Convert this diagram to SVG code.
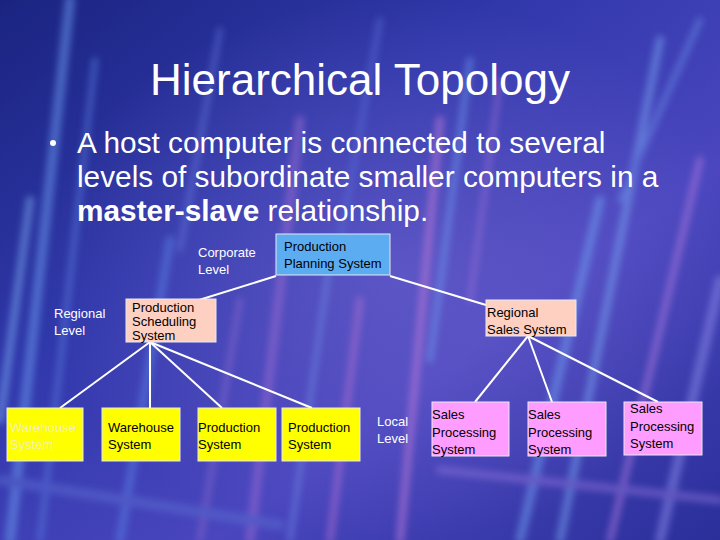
<svg xmlns="http://www.w3.org/2000/svg" width="720" height="540" viewBox="0 0 720 540">
<defs>
<linearGradient id="bg" x1="0" y1="0" x2="1" y2="1">
<stop offset="0" stop-color="#1a2480"/>
<stop offset="0.35" stop-color="#3038aa"/>
<stop offset="0.65" stop-color="#4a46be"/>
<stop offset="1" stop-color="#2a2f9a"/>
</linearGradient>
<radialGradient id="glow" cx="0.55" cy="0.5" r="0.5">
<stop offset="0" stop-color="#8070d8" stop-opacity="0.45"/>
<stop offset="1" stop-color="#8070d8" stop-opacity="0"/>
</radialGradient>
<filter id="blur" x="-20%" y="-20%" width="140%" height="140%"><feGaussianBlur stdDeviation="3.5"/></filter>
<style>
.t{font-family:"Liberation Sans",Arial,sans-serif;fill:#fff}
.s{font-family:"Liberation Sans",Arial,sans-serif;font-size:13px;fill:#000}
.lbl{font-family:"Liberation Sans",Arial,sans-serif;font-size:13px;fill:#fff}
.box{stroke:#e8e8f0;stroke-width:1}
.conn line{stroke:#fff;stroke-width:2}
.st{fill:none;stroke-linecap:round}
</style>
</defs>
<rect width="720" height="540" fill="url(#bg)"/>
<rect width="720" height="540" fill="url(#glow)"/>
<g filter="url(#blur)" opacity="0.55" class="st">
<path d="M10 540 L70 0" stroke="#6a98ee" stroke-width="10"/>
<path d="M40 540 L95 60" stroke="#5a7ee0" stroke-width="6"/>
<path d="M0 420 L30 200" stroke="#7aa8f0" stroke-width="8"/>
<path d="M120 540 L170 240" stroke="#5a80e4" stroke-width="8"/>
<path d="M200 540 L240 300" stroke="#8a68cc" stroke-width="6"/>
<path d="M250 540 L300 120" stroke="#9a6ad0" stroke-width="9"/>
<path d="M290 540 L330 260" stroke="#6f90e8" stroke-width="5"/>
<path d="M330 540 L360 300" stroke="#b070d0" stroke-width="7"/>
<path d="M400 540 L440 120" stroke="#c07ad8" stroke-width="8"/>
<path d="M430 360 L470 60" stroke="#6f9ef0" stroke-width="6"/>
<path d="M470 300 L500 80" stroke="#a070d8" stroke-width="5"/>
<path d="M520 540 L600 200" stroke="#6f9ef0" stroke-width="9"/>
<path d="M560 540 L660 40" stroke="#78a4f0" stroke-width="8"/>
<path d="M610 540 L700 160" stroke="#b07ae0" stroke-width="7"/>
<path d="M660 540 L720 280" stroke="#8a88e8" stroke-width="10"/>
<path d="M620 200 L700 20" stroke="#6a8ee8" stroke-width="6"/>
<path d="M180 250 L220 30" stroke="#6a7ee0" stroke-width="5"/>
<path d="M340 240 L380 20" stroke="#5a6ad8" stroke-width="6"/>
<path d="M440 470 L720 500" stroke="#8a70d8" stroke-width="8"/>
<path d="M0 480 L280 525" stroke="#5a6ad0" stroke-width="10"/>
</g>
<text class="t" x="360" y="95" font-size="44" text-anchor="middle">Hierarchical Topology</text>
<circle cx="53" cy="143" r="3" fill="#fff"/>
<text class="t" font-size="29.8"><tspan x="77" y="153">A host computer is connected to several</tspan><tspan x="77" y="187">levels of subordinate smaller computers in a</tspan><tspan x="77" y="221"><tspan font-weight="bold">master-slave</tspan> relationship.</tspan></text>
<g class="conn" id="connectors">
<line x1="276" y1="276" x2="199" y2="300"/>
<line x1="390" y1="276" x2="486" y2="305"/>
<line x1="150" y1="342" x2="60" y2="408"/>
<line x1="150" y1="342" x2="150" y2="408"/>
<line x1="150" y1="342" x2="222" y2="408"/>
<line x1="150" y1="342" x2="312" y2="408"/>
<line x1="528" y1="336" x2="475" y2="402"/>
<line x1="528" y1="336" x2="552" y2="402"/>
<line x1="528" y1="336" x2="658" y2="402"/>
</g>
<g id="lbl-corporate"><text class="lbl"><tspan x="198" y="257">Corporate</tspan><tspan x="198" y="274">Level</tspan></text></g>
<g id="lbl-regional"><text class="lbl"><tspan x="54" y="318">Regional</tspan><tspan x="54" y="335">Level</tspan></text></g>
<g id="lbl-local"><text class="lbl"><tspan x="377" y="426">Local</tspan><tspan x="377" y="443">Level</tspan></text></g>
<g id="planning"><rect class="box" x="276" y="234" width="114" height="41" fill="#5cacf2"/><text class="s"><tspan x="284" y="251">Production</tspan><tspan x="284" y="268">Planning System</tspan></text></g>
<g id="scheduling"><rect class="box" x="126" y="299" width="90" height="43" fill="#fdd0c2"/><text class="s" font-size="11"><tspan x="132" y="312">Production</tspan><tspan x="132" y="326">Scheduling</tspan><tspan x="132" y="340">System</tspan></text></g>
<g id="regional-sales"><rect class="box" x="486" y="300" width="90" height="36" fill="#fdd0c2"/><text class="s"><tspan x="487" y="317">Regional</tspan><tspan x="487" y="334">Sales System</tspan></text></g>
<g id="wh1"><rect class="box" x="7" y="408" width="76" height="53" fill="#ffff00"/><text class="s" style="fill:#f2f2b0"><tspan x="10" y="432">Warehouse</tspan><tspan x="10" y="449">System</tspan></text></g>
<g id="wh2"><rect class="box" x="102" y="408" width="78" height="53" fill="#ffff00"/><text class="s"><tspan x="108" y="432">Warehouse</tspan><tspan x="108" y="449">System</tspan></text></g>
<g id="prod1"><rect class="box" x="198" y="408" width="78" height="53" fill="#ffff00"/><text class="s"><tspan x="198" y="432">Production</tspan><tspan x="198" y="449">System</tspan></text></g>
<g id="prod2"><rect class="box" x="282" y="408" width="78" height="53" fill="#ffff00"/><text class="s"><tspan x="288" y="432">Production</tspan><tspan x="288" y="449">System</tspan></text></g>
<g id="sales1"><rect class="box" x="432" y="402" width="77" height="54" fill="#ff9cff"/><text class="s"><tspan x="432" y="419">Sales</tspan><tspan x="432" y="437">Processing</tspan><tspan x="432" y="454">System</tspan></text></g>
<g id="sales2"><rect class="box" x="528" y="402" width="78" height="54" fill="#ff9cff"/><text class="s"><tspan x="528" y="419">Sales</tspan><tspan x="528" y="437">Processing</tspan><tspan x="528" y="454">System</tspan></text></g>
<g id="sales3"><rect class="box" x="624" y="402" width="78" height="53" fill="#ff9cff"/><text class="s"><tspan x="630" y="413">Sales</tspan><tspan x="630" y="431">Processing</tspan><tspan x="630" y="448">System</tspan></text></g>
</svg>
